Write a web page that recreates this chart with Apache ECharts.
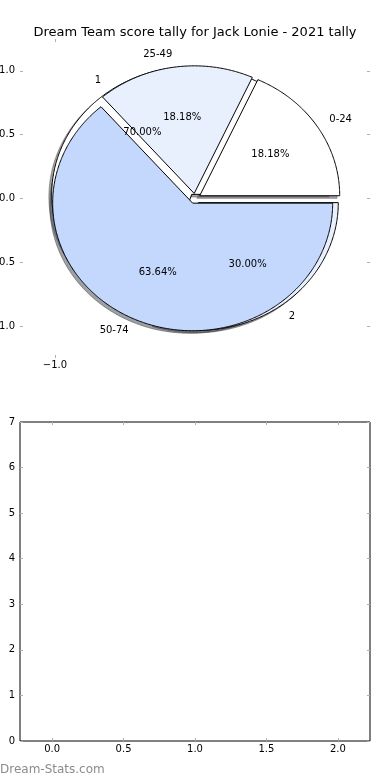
<!DOCTYPE html>
<html><head><meta charset="utf-8">
<script src="https://cdn.jsdelivr.net/npm/echarts@6/dist/echarts.min.js"></script>
<style>html,body{margin:0;padding:0;background:#fff}#c{width:390px;height:780px}</style>
</head><body><div id="c"></div>
<script>
// ---- data ----
const titleText = 'Dream Team score tally for Jack Lonie - 2021 tally';
const rangeLabels = ['0-24', '25-49', '50-74'];
const rangeCounts = [2, 2, 7];
const finishLabels = ['1', '2'];
const finishCounts = [7, 3];
const pieYTicks = [-1, -0.5, 0, 0.5, 1];
const pieXTicks = [-1];
const emptyXTicks = [0, 0.5, 1, 1.5, 2];
const emptyYTicks = [0, 1, 2, 3, 4, 5, 6, 7];
const watermarkText = 'Dream-Stats.com';

// ---- style ----
const palette = [[255, 255, 255], [232, 239, 253], [196, 215, 252]];
const EXPLODE = 0.04, SHADOW = -0.02, LABEL_DIST = 1.1, PCT_DIST = 0.6;
const FONT = '"DejaVu Sans", "Liberation Sans", sans-serif';
const TICK = '#b0b0b0';

function geometry(values) {
  const total = values.reduce((a, b) => a + b, 0);
  let cum = 0;
  return values.map(v => {
    const a1 = 2 * Math.PI * cum / total; cum += v;
    const a2 = 2 * Math.PI * cum / total;
    return { a1, a2, m: (a1 + a2) / 2, pct: v / total * 100 };
  });
}
const rgb = (c, k) => c.map(x => Math.round(x * k)).join(',');

function wedgeSeries(values, z, isShadow) {
  const geo = geometry(values);
  return {
    type: 'custom', coordinateSystem: 'cartesian2d', xAxisIndex: 0, yAxisIndex: 0,
    z, clip: false, silent: true,
    data: values.map((v, i) => [i, v]),
    renderItem(params, api) {
      const g = geo[params.dataIndex];
      const ox = EXPLODE * Math.cos(g.m) + (isShadow ? SHADOW : 0);
      const oy = EXPLODE * Math.sin(g.m) + (isShadow ? SHADOW : 0);
      const pts = [api.coord([ox, oy])];
      const n = Math.max(6, Math.ceil((g.a2 - g.a1) / 0.01));
      for (let k = 0; k <= n; k++) {
        const t = g.a1 + (g.a2 - g.a1) * k / n;
        pts.push(api.coord([ox + Math.cos(t), oy + Math.sin(t)]));
      }
      const col = palette[params.dataIndex % palette.length];
      const style = isShadow
        ? { fill: 'rgba(' + rgb(col, 0.3) + ',0.5)', stroke: 'rgba(' + rgb(col, 0.3) + ',0.5)', lineWidth: 1 }
        : { fill: 'rgb(' + rgb(col, 1) + ')', stroke: '#000', lineWidth: 1, lineJoin: 'miter' };
      return { type: 'polygon', shape: { points: pts }, style };
    }
  };
}

function labelSeries(values, labels) {
  const geo = geometry(values);
  return {
    type: 'custom', coordinateSystem: 'cartesian2d', xAxisIndex: 0, yAxisIndex: 0,
    z: 10, clip: false, silent: true,
    data: values.map((v, i) => [i, v]),
    renderItem(params, api) {
      const g = geo[params.dataIndex];
      const cx = EXPLODE * Math.cos(g.m), cy = EXPLODE * Math.sin(g.m);
      const lx = cx + LABEL_DIST * Math.cos(g.m), ly = cy + LABEL_DIST * Math.sin(g.m);
      const px = cx + PCT_DIST * Math.cos(g.m), py = cy + PCT_DIST * Math.sin(g.m);
      const lp = api.coord([lx, ly]), pp = api.coord([px, py]);
      return {
        type: 'group', children: [
          { type: 'text', x: lp[0], y: lp[1], style: { text: labels[params.dataIndex], fill: '#000', font: '10px ' + FONT, align: lx > 0 ? 'left' : 'right', verticalAlign: 'middle' } },
          { type: 'text', x: pp[0], y: pp[1], style: { text: g.pct.toFixed(2) + '%', fill: '#000', font: '10px ' + FONT, align: 'center', verticalAlign: 'middle' } }
        ]
      };
    }
  };
}

const fmt1 = v => (v < 0 ? '\u2212' : '') + Math.abs(v).toFixed(1);
const labelStyle = { color: '#000', fontSize: 10, fontFamily: FONT };
const tickStyle = { show: true, inside: true, length: 3, lineStyle: { color: TICK, width: 1 } };
const noLine = { show: false, onZero: false };

const chart = echarts.init(document.getElementById('c'), null, { renderer: 'canvas' });
chart.setOption({
  animation: false,
  backgroundColor: '#fff',
  title: { text: titleText, left: 'center', top: 21, textStyle: { fontSize: 13, fontWeight: 'normal', color: '#000', fontFamily: FONT } },
  grid: [
    { left: 20, top: 39, width: 350, height: 319, containLabel: false, outerBoundsMode: 'none' },
    { left: 20, top: 422, width: 350, height: 319, containLabel: false, outerBoundsMode: 'none',
      show: true, borderColor: '#000', borderWidth: 1, backgroundColor: 'transparent' }
  ],
  xAxis: [
    { type: 'value', gridIndex: 0, min: -1.25, max: 1.25, position: 'bottom', axisLine: noLine,
      axisTick: Object.assign({}, tickStyle, { customValues: pieXTicks }),
      axisLabel: Object.assign({}, labelStyle, { margin: 2, customValues: pieXTicks, formatter: fmt1 }),
      splitLine: { show: false } },
    { type: 'value', gridIndex: 0, min: -1.25, max: 1.25, position: 'top', axisLine: noLine,
      axisTick: Object.assign({}, tickStyle, { customValues: pieXTicks }),
      axisLabel: { show: false }, splitLine: { show: false } },
    { type: 'value', gridIndex: 1, min: -0.225, max: 2.225, position: 'bottom', axisLine: noLine,
      axisTick: Object.assign({}, tickStyle, { customValues: emptyXTicks }),
      axisLabel: Object.assign({}, labelStyle, { margin: 3, customValues: emptyXTicks, formatter: fmt1 }),
      splitLine: { show: false } },
    { type: 'value', gridIndex: 1, min: -0.225, max: 2.225, position: 'top', axisLine: noLine,
      axisTick: Object.assign({}, tickStyle, { customValues: emptyXTicks }),
      axisLabel: { show: false }, splitLine: { show: false } }
  ],
  yAxis: [
    { type: 'value', gridIndex: 0, min: -1.25, max: 1.25, position: 'left', axisLine: noLine,
      axisTick: Object.assign({}, tickStyle, { customValues: pieYTicks }),
      axisLabel: Object.assign({}, labelStyle, { margin: 5, customValues: pieYTicks, formatter: fmt1 }),
      splitLine: { show: false } },
    { type: 'value', gridIndex: 0, min: -1.25, max: 1.25, position: 'right', axisLine: noLine,
      axisTick: Object.assign({}, tickStyle, { customValues: pieYTicks }),
      axisLabel: { show: false }, splitLine: { show: false } },
    { type: 'value', gridIndex: 1, min: 0, max: 7, position: 'left', axisLine: noLine,
      axisTick: Object.assign({}, tickStyle, { customValues: emptyYTicks }),
      axisLabel: Object.assign({}, labelStyle, { margin: 5, customValues: emptyYTicks, formatter: v => String(v) }),
      splitLine: { show: false } },
    { type: 'value', gridIndex: 1, min: 0, max: 7, position: 'right', axisLine: noLine,
      axisTick: Object.assign({}, tickStyle, { customValues: emptyYTicks }),
      axisLabel: { show: false }, splitLine: { show: false } }
  ],
  graphic: [
    { type: 'text', left: 0, top: 764, style: { text: watermarkText, fill: '#8c8c8c', font: '12px ' + FONT } }
  ],
  series: [
    Object.assign(wedgeSeries(finishCounts, 1, true), { name: 'finishShadow' }),
    Object.assign(wedgeSeries(rangeCounts, 1, true), { name: 'rangeShadow' }),
    Object.assign(wedgeSeries(finishCounts, 2, false), { name: 'finish' }),
    Object.assign(wedgeSeries(rangeCounts, 3, false), { name: 'range' }),
    labelSeries(finishCounts, finishLabels),
    labelSeries(rangeCounts, rangeLabels)
  ]
});
</script></body></html>
